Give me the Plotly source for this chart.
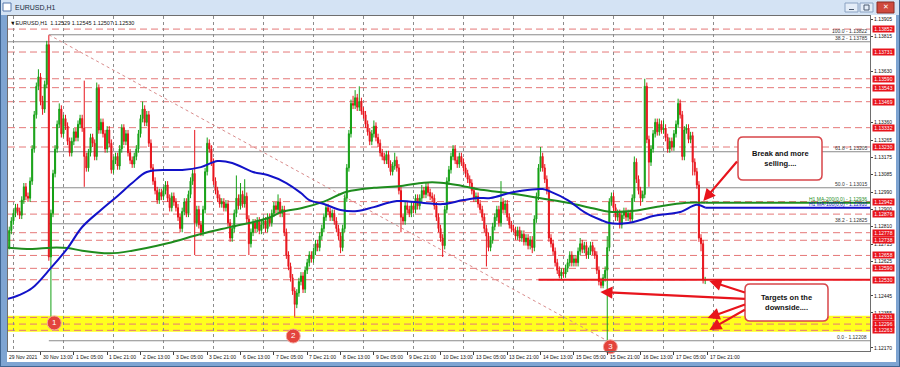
import plotly.graph_objects as go

FONT = "Liberation Sans, Arial, sans-serif"

# ------------------------------------------------------------------ data
# EURUSD H1, bar 0 = 29 Nov 2021 21:00 (server time), one entry per hour
opens = [1.1266, 1.1270, 1.1279,
 1.1284, 1.1288, 1.1291, 1.1289, 1.1287, 1.1295, 1.1302, 1.1297, 1.1296, 1.1305, 1.1322, 1.1340, 1.1355, 1.1360, 1.1347, 1.1343, 1.1356, 1.1377, 1.1265, 1.1288, 1.1309, 1.1322, 1.1335, 1.1343,
 1.1330, 1.1338, 1.1334, 1.1326, 1.1320, 1.1326, 1.1331, 1.1328, 1.1335, 1.1338, 1.1333, 1.1318, 1.1312, 1.1320, 1.1328, 1.1325, 1.1318, 1.1354, 1.1332, 1.1336, 1.1330, 1.1322, 1.1332, 1.1325,
 1.1311, 1.1316, 1.1318, 1.1313, 1.1322, 1.1333, 1.1326, 1.1330, 1.1320, 1.1316, 1.1314, 1.1318, 1.1322, 1.1330, 1.1338, 1.1343, 1.1336, 1.1340, 1.1325, 1.1312, 1.1305, 1.1300, 1.1295, 1.1299,
 1.1297, 1.1300, 1.1303, 1.1296, 1.1291, 1.1297, 1.1294, 1.1291, 1.1286, 1.1280, 1.1289, 1.1294, 1.1288, 1.1298, 1.1305, 1.1309, 1.1283, 1.1290, 1.1282, 1.1278, 1.1290, 1.1310, 1.1325, 1.1322,
 1.1315, 1.1305, 1.1300, 1.1296, 1.1293, 1.1294, 1.1291, 1.1293, 1.1283, 1.1275, 1.1280, 1.1288, 1.1296, 1.1292, 1.1298, 1.1293, 1.1297, 1.1285, 1.1272, 1.1278, 1.1283, 1.1280, 1.1284, 1.1279,
 1.1282, 1.1284, 1.1280, 1.1286, 1.1283, 1.1288, 1.1292, 1.1290, 1.1294, 1.1288, 1.1290, 1.1278, 1.1266, 1.1260, 1.1254, 1.1247, 1.1240, 1.1246, 1.1252, 1.1255, 1.1248, 1.1258, 1.1262, 1.1266,
 1.1264, 1.1268, 1.1272, 1.1270, 1.1276, 1.1280, 1.1286, 1.1291, 1.1289, 1.1286, 1.1288, 1.1284, 1.1280, 1.1276, 1.1270, 1.1280, 1.1296, 1.1312, 1.1330, 1.1346, 1.1345, 1.1349, 1.1344, 1.1347,
 1.1342, 1.1340, 1.1335, 1.1331, 1.1326, 1.1330, 1.1334, 1.1328, 1.1325, 1.1320, 1.1318, 1.1316, 1.1319, 1.1314, 1.1310, 1.1313, 1.1316, 1.1312, 1.1300, 1.1286, 1.1284, 1.1292, 1.1290, 1.1288,
 1.1292, 1.1290, 1.1296, 1.1292, 1.1296, 1.1300, 1.1298, 1.1302, 1.1299, 1.1297, 1.1296, 1.1292, 1.1286, 1.1280, 1.1275, 1.1271, 1.1290, 1.1305, 1.1311, 1.1318, 1.1322, 1.1316, 1.1314, 1.1318,
 1.1315, 1.1312, 1.1309, 1.1306, 1.1304, 1.1300, 1.1296, 1.1297, 1.1293, 1.1290, 1.1286, 1.1280, 1.1276, 1.1270, 1.1274, 1.1281, 1.1286, 1.1290, 1.1283, 1.1294, 1.1290, 1.1293, 1.1286, 1.1282,
 1.1280, 1.1279, 1.1276, 1.1279, 1.1275, 1.1277, 1.1273, 1.1275, 1.1271, 1.1274, 1.1270, 1.1285, 1.1297, 1.1312, 1.1318, 1.1312, 1.1306, 1.1300, 1.1275, 1.1272, 1.1268, 1.1262, 1.1258, 1.1255,
 1.1257, 1.1256, 1.1259, 1.1262, 1.1266, 1.1262, 1.1264, 1.1262, 1.1268, 1.1272, 1.1269, 1.1271, 1.1266, 1.1268, 1.1271, 1.1268, 1.1266, 1.1258, 1.1252, 1.1250, 1.1254, 1.1258, 1.1270, 1.1294,
 1.1297, 1.1291, 1.1286, 1.1288, 1.1282, 1.1287, 1.1289, 1.1286, 1.1288, 1.1285, 1.1296, 1.1315, 1.1306, 1.1300, 1.1296, 1.1298, 1.1355, 1.1327, 1.1315, 1.1322, 1.1330, 1.1336, 1.1331, 1.1335,
 1.1332, 1.1333, 1.1328, 1.1322, 1.1326, 1.1323, 1.1330, 1.1335, 1.1346, 1.1340, 1.1318, 1.1332, 1.1333, 1.1327, 1.1329, 1.1315, 1.1310, 1.1303, 1.1275, 1.1272, 1.12529]

highs = [1.1272, 1.1281, 1.1286,
 1.1290, 1.1293, 1.1293, 1.1291, 1.1297, 1.1304, 1.1304, 1.1299, 1.1307, 1.1324, 1.1342, 1.1357, 1.1364, 1.1362, 1.1350, 1.1358, 1.1379, 1.1382, 1.1290, 1.1311, 1.1324, 1.1337, 1.1346, 1.1345,
 1.1340, 1.1340, 1.1336, 1.1328, 1.1328, 1.1333, 1.1333, 1.1337, 1.1340, 1.1340, 1.1358, 1.1320, 1.1322, 1.1330, 1.1330, 1.1327, 1.1357, 1.1356, 1.1338, 1.1338, 1.1332, 1.1334, 1.1334, 1.1327,
 1.1318, 1.1320, 1.1320, 1.1324, 1.1335, 1.1335, 1.1332, 1.1332, 1.1322, 1.1318, 1.1320, 1.1324, 1.1332, 1.1340, 1.1347, 1.1345, 1.1342, 1.1342, 1.1327, 1.1314, 1.1307, 1.1302, 1.1301, 1.1301,
 1.1302, 1.1305, 1.1305, 1.1298, 1.1299, 1.1299, 1.1296, 1.1293, 1.1288, 1.1291, 1.1296, 1.1296, 1.1300, 1.1307, 1.1311, 1.1332, 1.1292, 1.1292, 1.1284, 1.1292, 1.1312, 1.1328, 1.1327, 1.1324,
 1.1317, 1.1307, 1.1302, 1.1298, 1.1296, 1.1296, 1.1295, 1.1295, 1.1285, 1.1282, 1.1290, 1.1308, 1.1298, 1.1304, 1.1300, 1.1306, 1.1299, 1.1287, 1.1280, 1.1285, 1.1285, 1.1286, 1.1286, 1.1284,
 1.1286, 1.1286, 1.1288, 1.1288, 1.1290, 1.1294, 1.1294, 1.1298, 1.1296, 1.1292, 1.1292, 1.1280, 1.1268, 1.1262, 1.1256, 1.1249, 1.1248, 1.1254, 1.1257, 1.1257, 1.1260, 1.1264, 1.1268, 1.1268,
 1.1270, 1.1274, 1.1274, 1.1278, 1.1282, 1.1288, 1.1293, 1.1293, 1.1291, 1.1290, 1.1290, 1.1286, 1.1282, 1.1278, 1.1282, 1.1298, 1.1314, 1.1332, 1.1348, 1.1350, 1.1353, 1.1351, 1.1355, 1.1349,
 1.1344, 1.1342, 1.1337, 1.1333, 1.1332, 1.1337, 1.1336, 1.1330, 1.1327, 1.1322, 1.1320, 1.1321, 1.1321, 1.1316, 1.1315, 1.1320, 1.1318, 1.1314, 1.1302, 1.1288, 1.1294, 1.1294, 1.1292, 1.1294,
 1.1294, 1.1298, 1.1298, 1.1298, 1.1303, 1.1302, 1.1304, 1.1304, 1.1301, 1.1299, 1.1298, 1.1294, 1.1288, 1.1282, 1.1277, 1.1292, 1.1307, 1.1313, 1.1320, 1.1324, 1.1324, 1.1318, 1.1320, 1.1320,
 1.1317, 1.1314, 1.1311, 1.1308, 1.1306, 1.1302, 1.1299, 1.1299, 1.1295, 1.1292, 1.1288, 1.1282, 1.1278, 1.1276, 1.1283, 1.1288, 1.1292, 1.1292, 1.1305, 1.1296, 1.1295, 1.1295, 1.1288, 1.1284,
 1.1282, 1.1281, 1.1281, 1.1281, 1.1279, 1.1279, 1.1277, 1.1277, 1.1276, 1.1276, 1.1287, 1.1299, 1.1314, 1.1323, 1.1320, 1.1314, 1.1308, 1.1302, 1.1277, 1.1274, 1.1270, 1.1264, 1.1260, 1.1259,
 1.1259, 1.1261, 1.1264, 1.1268, 1.1268, 1.1266, 1.1266, 1.1270, 1.1275, 1.1274, 1.1273, 1.1273, 1.1270, 1.1273, 1.1273, 1.1270, 1.1268, 1.1260, 1.1254, 1.1256, 1.1260, 1.1276, 1.1296, 1.1299,
 1.1299, 1.1293, 1.1290, 1.1290, 1.1289, 1.1291, 1.1291, 1.1290, 1.1290, 1.1298, 1.1318, 1.1317, 1.1308, 1.1302, 1.1300, 1.1359, 1.1357, 1.1329, 1.1324, 1.1332, 1.1338, 1.1338, 1.1338, 1.1337,
 1.1337, 1.1335, 1.1330, 1.1328, 1.1328, 1.1332, 1.1337, 1.13485, 1.1348, 1.1342, 1.1334, 1.1335, 1.1335, 1.1331, 1.1331, 1.1317, 1.1312, 1.1305, 1.1277, 1.1274, 1.12545]

lows = [1.1264, 1.1269, 1.1277,
 1.1282, 1.1286, 1.1287, 1.1285, 1.1285, 1.1293, 1.1295, 1.1294, 1.1294, 1.1303, 1.1320, 1.1338, 1.1353, 1.1345, 1.1340, 1.1341, 1.1354, 1.1263, 1.12335, 1.1286, 1.1307, 1.1320, 1.1333, 1.1328,
 1.1328, 1.1332, 1.1324, 1.1318, 1.1318, 1.1324, 1.1326, 1.1326, 1.1333, 1.1331, 1.1302, 1.1310, 1.1310, 1.1318, 1.1323, 1.1316, 1.1316, 1.1330, 1.1330, 1.1328, 1.1320, 1.1320, 1.1323, 1.1309,
 1.1309, 1.1314, 1.1311, 1.1311, 1.1320, 1.1324, 1.1324, 1.1318, 1.1314, 1.1312, 1.1312, 1.1316, 1.1320, 1.1328, 1.1336, 1.1334, 1.1334, 1.1323, 1.1310, 1.1303, 1.1298, 1.1293, 1.1293, 1.1295,
 1.1295, 1.1298, 1.1294, 1.1289, 1.1289, 1.1292, 1.1289, 1.1284, 1.1278, 1.1278, 1.1287, 1.1286, 1.1286, 1.1296, 1.1303, 1.1266, 1.1281, 1.1280, 1.1276, 1.1276, 1.1288, 1.1308, 1.1320, 1.1313,
 1.1303, 1.1298, 1.1294, 1.1291, 1.1291, 1.1289, 1.1289, 1.1281, 1.1273, 1.1273, 1.1278, 1.1286, 1.1290, 1.1290, 1.1291, 1.1291, 1.1283, 1.1266, 1.1270, 1.1276, 1.1278, 1.1278, 1.1277, 1.1277,
 1.1280, 1.1278, 1.1278, 1.1281, 1.1281, 1.1286, 1.1288, 1.1288, 1.1286, 1.1286, 1.1276, 1.1264, 1.1258, 1.1252, 1.1245, 1.12335, 1.1238, 1.1244, 1.1250, 1.1246, 1.1246, 1.1256, 1.1260, 1.1262,
 1.1262, 1.1266, 1.1268, 1.1268, 1.1274, 1.1278, 1.1284, 1.1287, 1.1284, 1.1284, 1.1282, 1.1278, 1.1274, 1.1267, 1.1268, 1.1278, 1.1294, 1.1310, 1.1328, 1.1343, 1.1343, 1.1342, 1.1342, 1.1340,
 1.1338, 1.1333, 1.1329, 1.1324, 1.1324, 1.1328, 1.1326, 1.1323, 1.1318, 1.1316, 1.1314, 1.1314, 1.1312, 1.1308, 1.1308, 1.1311, 1.1310, 1.1298, 1.1278, 1.1282, 1.1282, 1.1288, 1.1286, 1.1286,
 1.1288, 1.1288, 1.1290, 1.1290, 1.1294, 1.1296, 1.1296, 1.1297, 1.1295, 1.1294, 1.1290, 1.1284, 1.1278, 1.1273, 1.1265, 1.1269, 1.1288, 1.1303, 1.1309, 1.1316, 1.1314, 1.1312, 1.1312, 1.1313,
 1.1310, 1.1307, 1.1304, 1.1302, 1.1298, 1.1294, 1.1294, 1.1291, 1.1288, 1.1284, 1.1278, 1.1260, 1.1268, 1.1268, 1.1272, 1.1279, 1.1284, 1.1281, 1.1281, 1.1288, 1.1288, 1.1284, 1.1280, 1.1278,
 1.1278, 1.1274, 1.1274, 1.1273, 1.1273, 1.1271, 1.1271, 1.1269, 1.1269, 1.1267, 1.1268, 1.1283, 1.1295, 1.1310, 1.1310, 1.1304, 1.1298, 1.1273, 1.1270, 1.1266, 1.1260, 1.1256, 1.12537, 1.1253,
 1.1254, 1.1254, 1.1257, 1.1260, 1.1260, 1.1260, 1.1260, 1.1260, 1.1266, 1.1267, 1.1267, 1.1264, 1.1264, 1.1266, 1.1266, 1.1264, 1.1256, 1.1250, 1.12485, 1.12485, 1.1252, 1.12208, 1.1268, 1.1292,
 1.1289, 1.1284, 1.1284, 1.1280, 1.1280, 1.1285, 1.1284, 1.1284, 1.1283, 1.1283, 1.1294, 1.1304, 1.1298, 1.1292, 1.1294, 1.1296, 1.1325, 1.1302, 1.1313, 1.1320, 1.1328, 1.1329, 1.1329, 1.1330,
 1.1330, 1.1326, 1.1320, 1.1320, 1.1321, 1.1321, 1.1328, 1.1333, 1.1338, 1.1316, 1.1316, 1.1330, 1.1325, 1.1325, 1.1308, 1.1308, 1.1301, 1.1273, 1.1268, 1.1251, 1.12507]

closes = [1.1270, 1.1279, 1.1284,
 1.1288, 1.1291, 1.1289, 1.1287, 1.1295, 1.1302, 1.1297, 1.1296, 1.1305, 1.1322, 1.1340, 1.1355, 1.1360, 1.1347, 1.1343, 1.1356, 1.1377, 1.1265, 1.1288, 1.1309, 1.1322, 1.1335, 1.1343, 1.1330,
 1.1338, 1.1334, 1.1326, 1.1320, 1.1326, 1.1331, 1.1328, 1.1335, 1.1338, 1.1333, 1.1318, 1.1312, 1.1320, 1.1328, 1.1325, 1.1318, 1.1354, 1.1332, 1.1336, 1.1330, 1.1322, 1.1332, 1.1325, 1.1311,
 1.1316, 1.1318, 1.1313, 1.1322, 1.1333, 1.1326, 1.1330, 1.1320, 1.1316, 1.1314, 1.1318, 1.1322, 1.1330, 1.1338, 1.1343, 1.1336, 1.1340, 1.1325, 1.1312, 1.1305, 1.1300, 1.1295, 1.1299, 1.1297,
 1.1300, 1.1303, 1.1296, 1.1291, 1.1297, 1.1294, 1.1291, 1.1286, 1.1280, 1.1289, 1.1294, 1.1288, 1.1298, 1.1305, 1.1309, 1.1283, 1.1290, 1.1282, 1.1278, 1.1290, 1.1310, 1.1325, 1.1322, 1.1315,
 1.1305, 1.1300, 1.1296, 1.1293, 1.1294, 1.1291, 1.1293, 1.1283, 1.1275, 1.1280, 1.1288, 1.1296, 1.1292, 1.1298, 1.1293, 1.1297, 1.1285, 1.1272, 1.1278, 1.1283, 1.1280, 1.1284, 1.1279, 1.1282,
 1.1284, 1.1280, 1.1286, 1.1283, 1.1288, 1.1292, 1.1290, 1.1294, 1.1288, 1.1290, 1.1278, 1.1266, 1.1260, 1.1254, 1.1247, 1.1240, 1.1246, 1.1252, 1.1255, 1.1248, 1.1258, 1.1262, 1.1266, 1.1264,
 1.1268, 1.1272, 1.1270, 1.1276, 1.1280, 1.1286, 1.1291, 1.1289, 1.1286, 1.1288, 1.1284, 1.1280, 1.1276, 1.1270, 1.1280, 1.1296, 1.1312, 1.1330, 1.1346, 1.1345, 1.1349, 1.1344, 1.1347, 1.1342,
 1.1340, 1.1335, 1.1331, 1.1326, 1.1330, 1.1334, 1.1328, 1.1325, 1.1320, 1.1318, 1.1316, 1.1319, 1.1314, 1.1310, 1.1313, 1.1316, 1.1312, 1.1300, 1.1286, 1.1284, 1.1292, 1.1290, 1.1288, 1.1292,
 1.1290, 1.1296, 1.1292, 1.1296, 1.1300, 1.1298, 1.1302, 1.1299, 1.1297, 1.1296, 1.1292, 1.1286, 1.1280, 1.1275, 1.1271, 1.1290, 1.1305, 1.1311, 1.1318, 1.1322, 1.1316, 1.1314, 1.1318, 1.1315,
 1.1312, 1.1309, 1.1306, 1.1304, 1.1300, 1.1296, 1.1297, 1.1293, 1.1290, 1.1286, 1.1280, 1.1276, 1.1270, 1.1274, 1.1281, 1.1286, 1.1290, 1.1283, 1.1294, 1.1290, 1.1293, 1.1286, 1.1282, 1.1280,
 1.1279, 1.1276, 1.1279, 1.1275, 1.1277, 1.1273, 1.1275, 1.1271, 1.1274, 1.1270, 1.1285, 1.1297, 1.1312, 1.1318, 1.1312, 1.1306, 1.1300, 1.1275, 1.1272, 1.1268, 1.1262, 1.1258, 1.1255, 1.1257,
 1.1256, 1.1259, 1.1262, 1.1266, 1.1262, 1.1264, 1.1262, 1.1268, 1.1272, 1.1269, 1.1271, 1.1266, 1.1268, 1.1271, 1.1268, 1.1266, 1.1258, 1.1252, 1.1250, 1.1254, 1.1258, 1.1270, 1.1294, 1.1297,
 1.1291, 1.1286, 1.1288, 1.1282, 1.1287, 1.1289, 1.1286, 1.1288, 1.1285, 1.1296, 1.1315, 1.1306, 1.1300, 1.1296, 1.1298, 1.1355, 1.1327, 1.1315, 1.1322, 1.1330, 1.1336, 1.1331, 1.1335, 1.1332,
 1.1333, 1.1328, 1.1322, 1.1326, 1.1323, 1.1330, 1.1335, 1.1346, 1.1340, 1.1318, 1.1332, 1.1333, 1.1327, 1.1329, 1.1315, 1.1310, 1.1303, 1.1275, 1.1272, 1.1253, 1.1253]

bars = list(range(len(closes)))
assert len(opens) == len(highs) == len(lows) == len(closes) == 336, (len(opens), len(highs), len(lows), len(closes))

# moving averages (bar index, value)
ma100_bars = [0, 6, 12, 21, 29, 36, 45, 53, 60, 67, 77, 84, 93, 101, 108, 118, 125, 134, 141, 145, 152, 160, 168,
              176, 187, 200, 209, 219, 226, 232, 241, 246, 257, 261, 269, 277, 285, 289, 298, 304, 310, 317, 323, 331, 335]
ma100_vals = [1.12428, 1.12450, 1.12486, 1.12592, 1.12697, 1.12808, 1.12898, 1.12972, 1.13040, 1.13098, 1.13109,
              1.13109, 1.13124, 1.13156, 1.13146, 1.13098, 1.13082, 1.13040, 1.12987, 1.12950, 1.12929, 1.12898,
              1.12892, 1.12913, 1.12945, 1.12935, 1.12929, 1.12950, 1.12961, 1.12961, 1.12987, 1.12998, 1.13008,
              1.12993, 1.12950, 1.12887, 1.12845, 1.12829, 1.12829, 1.12845, 1.12866, 1.12877, 1.12887, 1.12925, 1.12910]
ma200_bars = [0, 12, 21, 29, 36, 49, 60, 77, 93, 108, 125, 132, 141, 152, 163, 176, 189, 200, 208, 216, 226, 235,
              241, 253, 269, 281, 289, 301, 312, 326, 335]
ma200_vals = [1.12699, 1.12692, 1.12699, 1.12697, 1.12683, 1.12669, 1.12683, 1.12722, 1.12771, 1.12810, 1.12854,
              1.12889, 1.12907, 1.12942, 1.12994, 1.13015, 1.13024, 1.13042, 1.13042, 1.13030, 1.13007, 1.12994,
              1.12986, 1.12965, 1.12936, 1.12907, 1.12889, 1.12894, 1.12915, 1.12936, 1.12936]

time_label_bars = [0, 16, 32, 48, 64, 80, 96, 112, 128, 144, 160, 176, 192, 208, 224, 240, 256, 272, 288, 304, 320, 336]
time_labels = ["29 Nov 2021", "30 Nov 13:00", "1 Dec 05:00", "1 Dec 21:00", "2 Dec 13:00", "3 Dec 05:00",
               "3 Dec 21:00", "6 Dec 13:00", "7 Dec 05:00", "7 Dec 21:00", "8 Dec 13:00", "9 Dec 05:00",
               "9 Dec 21:00", "10 Dec 13:00", "13 Dec 05:00", "13 Dec 21:00", "14 Dec 13:00", "15 Dec 05:00",
               "15 Dec 21:00", "16 Dec 13:00", "17 Dec 05:00", "17 Dec 21:00"]
day_separator_bars = [3, 27, 51, 75, 99, 123, 147, 171, 195, 219, 243, 267, 291, 315, 339]

# price-scale ticks that stay visible next to the red level tags
price_ticks = [1.13905, 1.13815, 1.13630, 1.13360, 1.13265, 1.13175, 1.13085, 1.12990,
               1.12900, 1.12810, 1.12715, 1.12625, 1.12445, 1.12355, 1.12170]

red_levels = [1.13852, 1.13731, 1.13590, 1.13543, 1.13469, 1.13332, 1.13230, 1.12942, 1.12876, 1.12778, 1.12738,
              1.12658, 1.12590, 1.12530, 1.12331, 1.12296, 1.12263]
support_level = 1.12530
support_start_bar = 255
target_zone = [1.12255, 1.12340]

fib_levels = [1.13822, 1.13205, 1.13015, 1.12825, 1.12208]
fib_names = ["100.0", "61.8", "50.0", "38.2", "0.0"]
fib_start_bar = 20
fib_low_bar = 288
fib2_level = 1.13785
fib2_name = "38.2"

marker_bars = [22.6, 137.3, 289.5]
marker_prices = [1.12302, 1.12233, 1.12176]
marker_labels = ["1", "2", "3"]

header = "\u25BCEURUSD,H1  1.12529 1.12545 1.12507 1.12530"

# ------------------------------------------------------------------ geometry helpers
W, H = 900, 367
PL, PR, PT, PB = 8, 870, 16, 351
X_RANGE = [0.4, 414.1]
Y_RANGE = [1.12154, 1.13921]


def fx(px):
    return (px - PL) / (PR - PL)


def fy(py):
    return (PB - py) / (PB - PT)


def rounded_rect(x0, y0, x1, y1, r):
    def P(x, y):
        return f"{fx(x):.5f},{fy(y):.5f}"
    return (f"M {P(x0 + r, y0)} L {P(x1 - r, y0)} Q {P(x1, y0)} {P(x1, y0 + r)} "
            f"L {P(x1, y1 - r)} Q {P(x1, y1)} {P(x1 - r, y1)} L {P(x0 + r, y1)} "
            f"Q {P(x0, y1)} {P(x0, y1 - r)} L {P(x0, y0 + r)} Q {P(x0, y0)} {P(x0 + r, y0)} Z")


UP = "#14a014"
DN = "#e8141c"
RED = "#e8141c"
DASH_RED = "#e57878"

fig = go.Figure()

fig.add_trace(go.Candlestick(
    x=bars, open=opens, high=highs, low=lows, close=closes,
    increasing=dict(line=dict(color=UP, width=1), fillcolor=UP),
    decreasing=dict(line=dict(color=DN, width=1), fillcolor=DN),
    whiskerwidth=0, showlegend=False, hoverinfo="skip"))

fig.add_trace(go.Scatter(x=ma200_bars, y=ma200_vals, mode="lines",
                         line=dict(color="#1e8c1e", width=2, shape="spline"),
                         showlegend=False, hoverinfo="skip"))
fig.add_trace(go.Scatter(x=ma100_bars, y=ma100_vals, mode="lines",
                         line=dict(color="#1212c8", width=2, shape="spline"),
                         showlegend=False, hoverinfo="skip"))

fig.add_trace(go.Scatter(x=marker_bars, y=marker_prices, mode="markers+text", text=marker_labels,
                         marker=dict(size=14, color="#e3443c", line=dict(color="#f4a59d", width=1)),
                         textfont=dict(color="white", size=8, family=FONT),
                         textposition="middle center", cliponaxis=False,
                         showlegend=False, hoverinfo="skip"))

shapes = []
shapes.append(dict(type="rect", xref="paper", x0=0, x1=1, yref="y", y0=target_zone[0], y1=target_zone[1],
                   fillcolor="#ffff1e", line=dict(width=0), layer="below"))
for lv in red_levels:
    shapes.append(dict(type="line", xref="paper", x0=0, x1=1, yref="y", y0=lv, y1=lv,
                       line=dict(color=DASH_RED, width=1, dash="7px,4px"), layer="between"))
for lv in fib_levels:
    shapes.append(dict(type="line", xref="x", x0=fib_start_bar, x1=X_RANGE[1], yref="y", y0=lv, y1=lv,
                       line=dict(color="#8a8a8a", width=1), layer="between"))
shapes.append(dict(type="line", xref="paper", x0=0, x1=1, yref="y", y0=fib2_level, y1=fib2_level,
                   line=dict(color="#8a8a8a", width=1), layer="between"))
shapes.append(dict(type="line", xref="x", x0=fib_start_bar, x1=fib_low_bar, yref="y",
                   y0=fib_levels[0], y1=fib_levels[-1],
                   line=dict(color="#d98c8c", width=1, dash="dot"), layer="between"))
shapes.append(dict(type="line", xref="x", x0=support_start_bar, x1=X_RANGE[1], yref="y",
                   y0=support_level, y1=support_level, line=dict(color=RED, width=2), layer="above"))
shapes.append(dict(type="line", xref="x", x0=ma200_bars[-1], x1=X_RANGE[1], yref="y",
                   y0=ma200_vals[-1], y1=ma200_vals[-1], line=dict(color="#1e8c1e", width=2), layer="above"))
shapes.append(dict(type="line", xref="x", x0=ma100_bars[-1], x1=X_RANGE[1], yref="y",
                   y0=ma100_vals[-1], y1=ma100_vals[-1], line=dict(color="#1212c8", width=2), layer="above"))


def prect(x0, y0, x1, y1, fill, line_color=None, lw=0, layer="above"):
    return dict(type="rect", xref="paper", yref="paper", x0=fx(x0), x1=fx(x1), y0=fy(y1), y1=fy(y0),
                fillcolor=fill, line=dict(color=line_color or fill, width=lw), layer=layer)


FRAME = "#7ea4d2"
shapes += [
    prect(0, 0, 900, 15, "#d4e3f4"),
    prect(0, 15, 7, 367, FRAME),
    prect(896, 15, 900, 367, FRAME),
    prect(0, 362, 900, 367, FRAME),
    prect(0, 0, 1, 367, "#3f6592"),
    prect(899, 0, 900, 367, "#3f6592"),
    prect(0, 366, 900, 367, "#3f6592"),
    prect(3, 3, 11, 11, "#ffffff", "#5577aa", 1),
    prect(845, 3, 858, 12, "#e4edf8", "#8aa2c2", 1),
    prect(860, 3, 873, 12, "#e4edf8", "#8aa2c2", 1),
    prect(877, 2, 894, 13, "#cf4a3e", "#8a2a22", 1),
    prect(849, 9, 854, 10, "#4a5a70"),
    prect(864, 5, 869, 10, "#e4edf8", "#4a5a70", 1),
]

shapes.append(dict(type="path", xref="paper", yref="paper", path=rounded_rect(738, 137, 822, 180, 5),
                   fillcolor="white", line=dict(color="#d8454a", width=1.5), layer="above"))
shapes.append(dict(type="path", xref="paper", yref="paper", path=rounded_rect(745, 284, 828, 321, 5),
                   fillcolor="white", line=dict(color="#d8454a", width=1.5), layer="above"))

ann = []
for lv in red_levels:
    ann.append(dict(xref="paper", x=fx(872), xanchor="left", yref="y", y=lv, yanchor="middle",
                    text=f"{lv:.5f}", showarrow=False, bgcolor=RED, borderpad=0, width=21,
                    font=dict(family=FONT, size=5, color="white")))
for lv, nm in zip(fib_levels, fib_names):
    ann.append(dict(xref="paper", x=fx(868), xanchor="right", yref="y", y=lv, yanchor="bottom",
                    text=f"{nm} - {lv:.5f}", showarrow=False, borderpad=0,
                    font=dict(family=FONT, size=5, color="#333333")))
ann.append(dict(xref="paper", x=fx(868), xanchor="right", yref="y", y=fib2_level, yanchor="bottom",
                text=f"{fib2_name} - {fib2_level:.5f}", showarrow=False, borderpad=0,
                font=dict(family=FONT, size=5, color="#333333")))
ann.append(dict(xref="paper", x=fx(868), xanchor="right", yref="y", y=ma200_vals[-1], yanchor="bottom",
                text=f"H1 MA-200(0,0) - {ma200_vals[-1]:.5f}", showarrow=False, borderpad=0,
                font=dict(family=FONT, size=5, color="#1e8c1e")))
ann.append(dict(xref="paper", x=fx(868), xanchor="right", yref="y", y=ma100_vals[-1], yanchor="bottom",
                text=f"H1 MA-100(0,0) - {ma100_vals[-1]:.5f}", showarrow=False, borderpad=0,
                font=dict(family=FONT, size=5, color="#1212c8")))
for b, t in zip(time_label_bars, time_labels):
    ann.append(dict(xref="x", x=b + 0.6, xanchor="left", yref="paper", y=fy(352.5), yanchor="top",
                    text=t, showarrow=False, borderpad=0, font=dict(family=FONT, size=5, color="#111111")))
ann.append(dict(xref="paper", x=fx(9), xanchor="left", yref="paper", y=fy(22.5), yanchor="middle",
                text=header, showarrow=False, borderpad=0, font=dict(family=FONT, size=5.5, color="#111111")))
ann.append(dict(xref="paper", x=fx(14), xanchor="left", yref="paper", y=fy(7.5), yanchor="middle",
                text="EURUSD,H1", showarrow=False, borderpad=0, font=dict(family=FONT, size=7, color="#1b2a3a")))
ann.append(dict(xref="paper", x=fx(885.5), xanchor="center", yref="paper", y=fy(7.5), yanchor="middle",
                text="\u2715", showarrow=False, borderpad=0, font=dict(family="DejaVu Sans", size=7, color="white")))
ann.append(dict(xref="paper", x=fx(780), xanchor="center", yref="paper", y=fy(158), yanchor="middle",
                text="<b>Break and more<br>selling....</b>", showarrow=False, align="center",
                font=dict(family=FONT, size=7.5, color="#111111")))
ann.append(dict(xref="paper", x=fx(786.5), xanchor="center", yref="paper", y=fy(302.5), yanchor="middle",
                text="<b>Targets on the<br>downside....</b>", showarrow=False, align="center",
                font=dict(family=FONT, size=7.5, color="#111111")))
arrows = [
    (334.1, 1.12945, 35, -41),
    (337.0, 1.12523, 37, 12),
    (284.7, 1.12465, 146, 7),
    (336.1, 1.12328, 39, -14),
    (337.0, 1.12265, 37, -21),
]
for xa, ya, ax, ay in arrows:
    ann.append(dict(xref="x", x=xa, yref="y", y=ya, ax=ax, ay=ay, text="", showarrow=True,
                    arrowhead=2, arrowsize=1.1, arrowwidth=2.2, arrowcolor=RED, standoff=0))

fig.update_layout(
    width=W, height=H,
    margin=dict(l=PL, r=W - PR, t=PT, b=H - PB, pad=0),
    paper_bgcolor="white", plot_bgcolor="white",
    showlegend=False,
    font=dict(family=FONT, size=5, color="#111111"),
    shapes=shapes, annotations=ann,
    xaxis=dict(range=X_RANGE, rangeslider=dict(visible=False), tickmode="array",
               tickvals=day_separator_bars, showticklabels=False, ticks="",
               showgrid=True, gridcolor="#8c8c8c", griddash="dot", gridwidth=1,
               zeroline=False, showline=True, linecolor="#6e6e6e", linewidth=1, mirror=True,
               minor=dict(tickmode="array", tickvals=time_label_bars, ticks="outside", ticklen=3,
                          tickcolor="#444444", showgrid=False)),
    yaxis=dict(range=Y_RANGE, side="right", tickmode="array", tickvals=price_ticks,
               ticktext=[f"{v:.5f}" for v in price_ticks], ticks="outside", ticklen=2,
               tickcolor="#444444", tickfont=dict(family=FONT, size=5, color="#111111"),
               showgrid=False, zeroline=False, showline=True, linecolor="#6e6e6e", linewidth=1,
               mirror=True, fixedrange=True),
)

fig.write_html("out.html")
